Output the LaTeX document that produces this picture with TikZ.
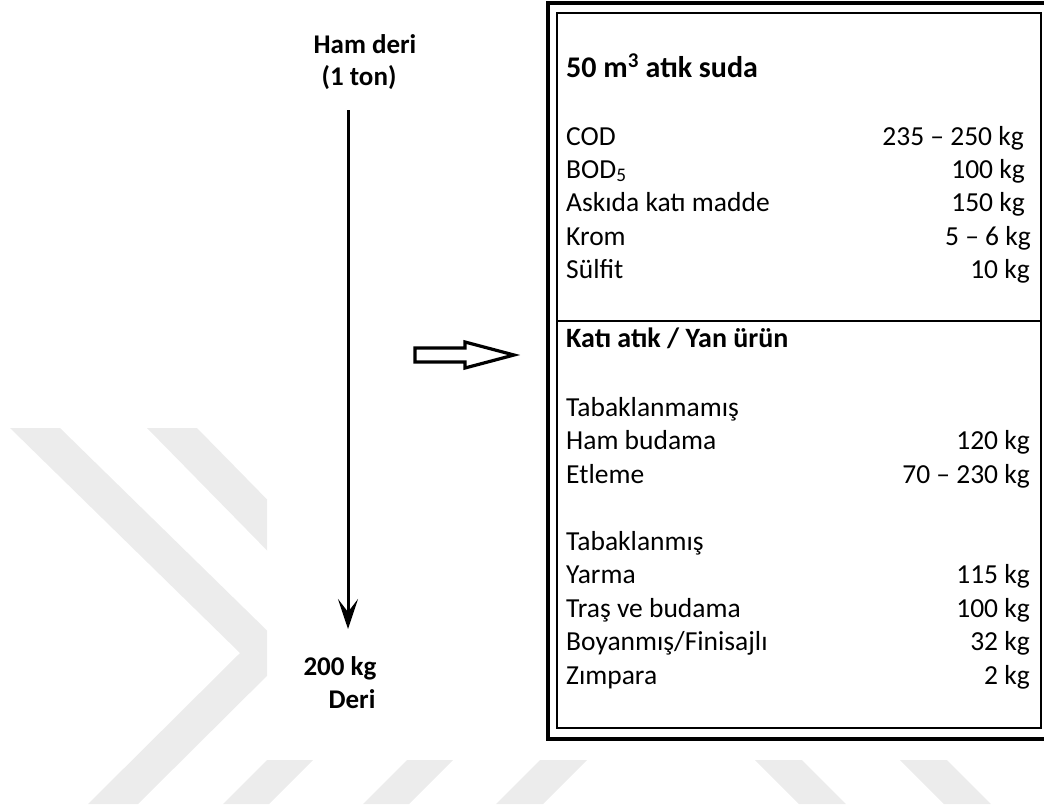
\documentclass[tikz,border=0pt]{standalone}
\usepackage{fontspec}
\setmainfont{Carlito}
\usetikzlibrary{arrows.meta}
\definecolor{wm}{RGB}{236,236,236}
\begin{document}
\begin{tikzpicture}[x=1pt,y=-1pt,
  lbl/.style={font=\fontsize{27.5}{32}\selectfont, inner sep=0pt, anchor=base west},
  val/.style={font=\fontsize{27.5}{32}\selectfont, inner sep=0pt, anchor=base east},
  hdr/.style={font=\fontsize{28}{32}\selectfont\bfseries, inner sep=0pt, anchor=base west},
  ttl/.style={font=\fontsize{30}{34}\selectfont\bfseries, inner sep=0pt, anchor=base west},
  side/.style={font=\fontsize{27}{31}\selectfont\bfseries, inner sep=0pt, anchor=base},
  wmfill/.style={fill=wm, draw=none}]
\useasboundingbox (0,0) rectangle (1044,804);
% watermark
\begin{scope}
  \clip (0,0) rectangle (267,804) (267,760) rectangle (1044,804);
  \fill[wmfill] (10,428) -- (60,428) -- (290,653) -- (138,804) -- (88,804) -- (240,653) -- cycle;
  \fill[wmfill] (147,428) -- (197,428) -- (447,683) -- (397,683) -- cycle;
  \fill[wmfill] (267,760) -- (313,760) -- (269,804) -- (223,804) -- cycle;
  \fill[wmfill] (407,760) -- (453,760) -- (409,804) -- (363,804) -- cycle;
  \fill[wmfill] (540,760) -- (587,760) -- (543,804) -- (496,804) -- cycle;
  \fill[wmfill] (755,760) -- (802,760) -- (846,804) -- (799,804) -- cycle;
  \fill[wmfill] (900,760) -- (947,760) -- (991,804) -- (944,804) -- cycle;
\end{scope}
% left flow
\node[side] (raw1) at (365,53) {Ham deri};
\node[side] (raw2) at (359,85) {(1 ton)};
\coordinate (a1) at (348,110);
\coordinate (a2) at (348,629);
\draw[line width=3pt, -{Stealth[length=30pt,width=20pt,inset=13pt]}] (a1) -- (a2);
\node[side] (out1) at (340,675) {200 kg};
\node[side] (out2) at (352,708) {Deri};
% box
\coordinate (ob1) at (548,3);
\coordinate (ob2) at (1052,739);
\coordinate (ib1) at (557,13);
\coordinate (ib2) at (1041,728);
\coordinate (dl) at (557,321);
\coordinate (dr) at (1041,321);
\draw[line width=4pt] (ob1) rectangle (ob2);
\draw[line width=1.6pt] (ib1) rectangle (ib2);
\draw[line width=1.4pt] (dl) -- (dr);
% block arrow
\draw[line width=3.2pt, fill=white, line join=miter] (415,348) -- (465,348) -- (465,342) -- (514,355) -- (465,368) -- (465,362) -- (415,362) -- cycle;
% water section
\node[ttl] (t1) at (566,77) {50 m\textsuperscript{3} atık suda};
\node[lbl] (l1) at (566,145) {COD};
\node[val] (v1) at (1024,145) {235 – 250 kg};
\node[lbl] (l2) at (566,178) {BOD\textsubscript{5}};
\node[val] (v2) at (1025,178) {100 kg};
\node[lbl] (l3) at (566,211) {Askıda katı madde};
\node[val] (v3) at (1025,211) {150 kg};
\node[lbl] (l4) at (566,245) {Krom};
\node[val] (v4) at (1031,245) {5 – 6 kg};
\node[lbl] (l5) at (566,278) {Sülfit};
\node[val] (v5) at (1030,278) {10 kg};
% solid waste section
\node[hdr] (h2) at (566,347) {Katı atık / Yan ürün};
\node[lbl] (s1) at (566,416) {Tabaklanmamış};
\node[lbl] (s2) at (566,449) {Ham budama};
\node[val] (w2) at (1030,449) {120 kg};
\node[lbl] (s3) at (566,483) {Etleme};
\node[val] (w3) at (1030,483) {70 – 230 kg};
\node[lbl] (s4) at (566,550) {Tabaklanmış};
\node[lbl] (s5) at (566,583) {Yarma};
\node[val] (w5) at (1030,583) {115 kg};
\node[lbl] (s6) at (566,617) {Traş ve budama};
\node[val] (w6) at (1030,617) {100 kg};
\node[lbl] (s7) at (566,650) {Boyanmış/Finisajlı};
\node[val] (w7) at (1030,650) {32 kg};
\node[lbl] (s8) at (566,684) {Zımpara};
\node[val] (w8) at (1030,684) {2 kg};
\end{tikzpicture}
\end{document}
